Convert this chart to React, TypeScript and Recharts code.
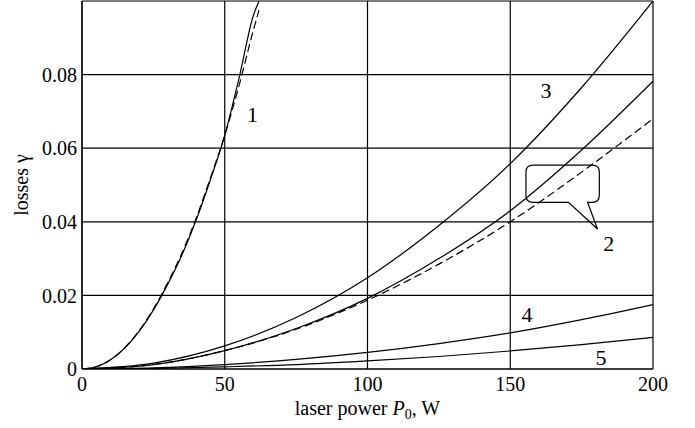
import {
  LineChart,
  Line,
  XAxis,
  YAxis,
  CartesianGrid,
  ReferenceArea,
  ReferenceDot
} from 'recharts';

// curve 1 (steep), solid and dashed
const powerFast = [0, 5, 10, 15, 20, 25, 30, 35, 40, 45, 50, 55, 60, 62];
const curve1Solid = [0, 0.0006, 0.0025, 0.0057, 0.0102, 0.016, 0.023, 0.031, 0.0405, 0.0515, 0.0635, 0.079, 0.096, 0.1];
const curve1Dashed = [0, 0.0006, 0.0025, 0.0058, 0.0104, 0.0163, 0.0234, 0.0315, 0.041, 0.052, 0.0635, 0.077, 0.092, 0.0975];

// curves 2..5 over the full range
const power = [0, 25, 50, 75, 100, 125, 150, 175, 200];
const curve3 = [0, 0.0016, 0.0063, 0.014, 0.0248, 0.039, 0.0558, 0.0765, 0.1];
const curve2Solid = [0, 0.0012, 0.005, 0.011, 0.0192, 0.03, 0.043, 0.0595, 0.0782];
const curve2Dashed = [0, 0.0012, 0.005, 0.0108, 0.0187, 0.0285, 0.04, 0.0535, 0.068];
const curve4 = [0, 0.0003, 0.0012, 0.0026, 0.0045, 0.0069, 0.0098, 0.0134, 0.0175];
const curve5 = [0, 0.00014, 0.0006, 0.0012, 0.0022, 0.0034, 0.0049, 0.0066, 0.0086];

const xTicks = [0, 50, 100, 150, 200];
const yTicks = [0, 0.02, 0.04, 0.06, 0.08, 0.1];

// curve numbers: [label, power, losses]
const curveLabels: [string, number, number][] = [
  ['1', 59.7, 0.0693],
  ['3', 162.5, 0.0757],
  ['2', 184.5, 0.0342],
  ['4', 155.9, 0.0149],
  ['5', 181.8, 0.0033]
];

const toPoints = (xs: number[], ys: number[]) => xs.map((x, i) => ({ x, y: ys[i] }));

const font = '"Liberation Serif", "Times New Roman", serif';

const Bubble = (props: any) => {
  const { x, y, width, height } = props;
  const r = 7;
  const right = x + width;
  const bottom = y + height;
  const b1 = x + width * 0.58;
  const b2 = x + width * 0.84;
  const tipX = x + width * 0.975;
  const tipY = bottom + height * 0.72;
  const d = [
    `M ${x + r} ${y}`,
    `L ${right - r} ${y}`,
    `Q ${right} ${y} ${right} ${y + r}`,
    `L ${right} ${bottom - r}`,
    `Q ${right} ${bottom} ${right - r} ${bottom}`,
    `L ${b2} ${bottom}`,
    `L ${tipX} ${tipY}`,
    `L ${b1} ${bottom}`,
    `L ${x + r} ${bottom}`,
    `Q ${x} ${bottom} ${x} ${bottom - r}`,
    `L ${x} ${y + r}`,
    `Q ${x} ${y} ${x + r} ${y}`,
    'Z'
  ].join(' ');
  return <path d={d} fill="none" stroke="#000" strokeWidth={1.2} />;
};

const XLabel = (props: any) => {
  const { viewBox } = props;
  const cx = viewBox.x + viewBox.width / 2;
  return (
    <text x={cx} y={415} textAnchor="middle" fontFamily={font} fontSize={20} fill="#000">
      <tspan>laser power </tspan>
      <tspan fontStyle="italic">P</tspan>
      <tspan fontSize={14} dy={4}>0</tspan>
      <tspan dy={-4}>, W</tspan>
    </text>
  );
};

const YLabel = (props: any) => {
  const { viewBox } = props;
  const cy = viewBox.y + viewBox.height / 2;
  return (
    <text
      x={28}
      y={cy}
      transform={`rotate(-90 28 ${cy})`}
      textAnchor="middle"
      fontFamily={font}
      fontSize={20}
      fill="#000"
    >
      losses γ
    </text>
  );
};

export default function App() {
  return (
    <div style={{ position: 'absolute', left: 0, top: 0, background: '#fff' }}>
      <LineChart
        width={695}
        height={428}
        margin={{ top: 1, right: 42, left: 0, bottom: 0 }}
      >
        <CartesianGrid stroke="#000" strokeWidth={1.2} horizontalValues={yTicks} verticalValues={xTicks} />
        <XAxis
          type="number"
          dataKey="x"
          domain={[0, 200]}
          ticks={xTicks}
          height={59}
          tickLine={false}
          stroke="#000"
          strokeWidth={1.2}
          tick={{ fill: '#000', fontFamily: font, fontSize: 20 }}
          label={<XLabel />}
        />
        <YAxis
          type="number"
          domain={[0, 0.1]}
          ticks={yTicks}
          width={82}
          tickLine={false}
          tickSize={3}
          stroke="#000"
          strokeWidth={1.2}
          allowDataOverflow
          tickFormatter={(v: number) => (v === 0 ? '0' : v >= 0.1 ? '' : v.toFixed(2))}
          tick={{ fill: '#000', fontFamily: font, fontSize: 20 }}
          label={<YLabel />}
        />
        <Line data={toPoints(powerFast, curve1Solid)} dataKey="y" type="monotone" stroke="#000" strokeWidth={1.2} dot={false} isAnimationActive={false} />
        <Line data={toPoints(powerFast, curve1Dashed)} dataKey="y" type="monotone" stroke="#000" strokeWidth={1.2} strokeDasharray="8 4" dot={false} isAnimationActive={false} />
        <Line data={toPoints(power, curve3)} dataKey="y" type="monotone" stroke="#000" strokeWidth={1.2} dot={false} isAnimationActive={false} />
        <Line data={toPoints(power, curve2Solid)} dataKey="y" type="monotone" stroke="#000" strokeWidth={1.2} dot={false} isAnimationActive={false} />
        <Line data={toPoints(power, curve2Dashed)} dataKey="y" type="monotone" stroke="#000" strokeWidth={1.2} strokeDasharray="8 4" dot={false} isAnimationActive={false} />
        <Line data={toPoints(power, curve4)} dataKey="y" type="monotone" stroke="#000" strokeWidth={1.2} dot={false} isAnimationActive={false} />
        <Line data={toPoints(power, curve5)} dataKey="y" type="monotone" stroke="#000" strokeWidth={1.2} dot={false} isAnimationActive={false} />
        <ReferenceArea x1={155.5} x2={181.2} y1={0.0453} y2={0.0554} ifOverflow="visible" shape={<Bubble />} />
        {curveLabels.map(([text, x, y]) => (
          <ReferenceDot
            key={text}
            x={x}
            y={y}
            r={0}
            fill="none"
            stroke="none"
            label={{ value: text, position: 'center', fill: '#000', fontFamily: font, fontSize: 22 }}
          />
        ))}
      </LineChart>
    </div>
  );
}
